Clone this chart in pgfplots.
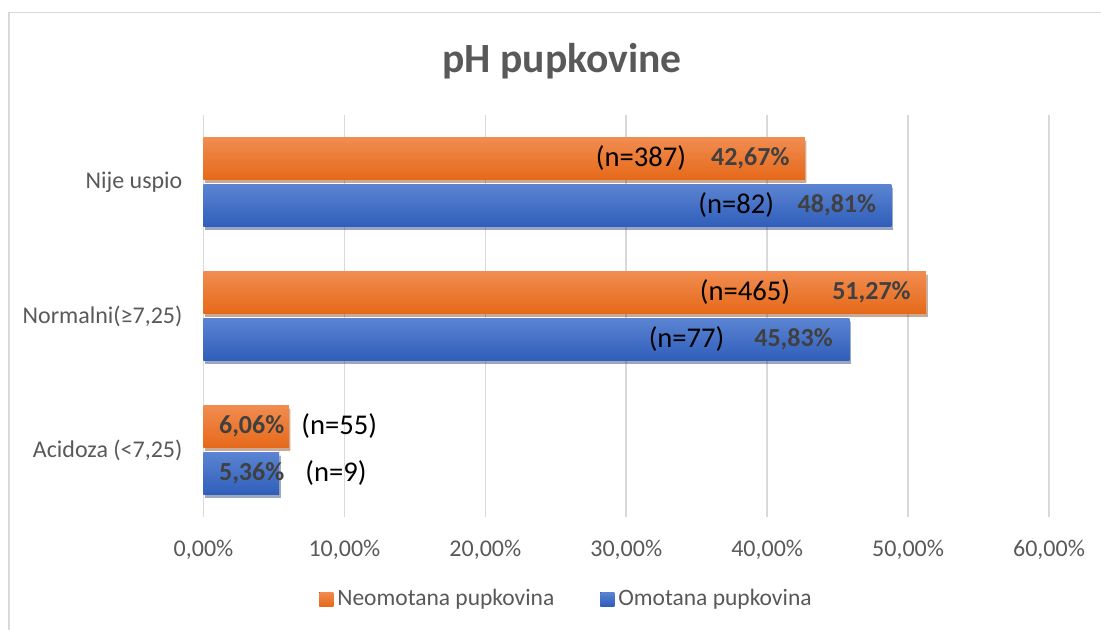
\documentclass[border=0pt]{standalone}
\usepackage{pgfplots}
\pgfplotsset{compat=1.18}
\usepackage{fontspec}
\setmainfont{Carlito}
\usetikzlibrary{shadows}
\definecolor{txt}{HTML}{595959}
\definecolor{lbl}{HTML}{404040}
\definecolor{gridc}{HTML}{D9D9D9}
\definecolor{orT}{RGB}{241,140,80}
\definecolor{orB}{RGB}{230,105,25}
\definecolor{blT}{RGB}{91,132,210}
\definecolor{blB}{RGB}{47,94,186}
\pgfplotsset{
  orbar/.style={xbar, bar width=21pt, bar shift=11.75pt, draw=none, forget plot,
    top color=orT, bottom color=orB,
    drop shadow={shadow xshift=0.8pt, shadow yshift=-1.6pt, opacity=0.25, fill=black}},
  blbar/.style={xbar, bar width=21pt, bar shift=-11.75pt, draw=none, forget plot,
    top color=blT, bottom color=blB,
    drop shadow={shadow xshift=0.8pt, shadow yshift=-1.6pt, opacity=0.25, fill=black}},
}
\begin{document}
\begin{tikzpicture}
\useasboundingbox (-101.75pt,-56.5pt) rectangle (448.75pt,258.5pt);
\draw[gridc, line width=0.8pt] (-97.25pt,-56.5pt) -- (-97.25pt,252.25pt) -- (448.75pt,252.25pt);
\begin{axis}[
  at={(0,0)}, anchor=south west,
  scale only axis, width=422.75pt, height=201pt,
  xmin=0, xmax=60, ymin=-0.5, ymax=2.5,
  xtick={0,10,...,60},
  xticklabels={0{,}00\%,10{,}00\%,20{,}00\%,30{,}00\%,40{,}00\%,50{,}00\%,60{,}00\%},
  ytick={0,1,2},
  yticklabels={Acidoza (<7{,}25),Normalni(≥7{,}25),Nije uspio},
  xmajorgrids, major grid style={gridc, line width=0.8pt},
  axis line style={draw=none}, tick style={draw=none},
  /pgf/number format/assume math mode=true,
  xticklabel style={font=\fontsize{12}{14}\selectfont, text=txt, yshift=-8pt},
  yticklabel style={font=\fontsize{12}{14}\selectfont, text=txt, xshift=-7pt},
  title={pH pupkovine},
  title style={font=\fontsize{20.8}{24}\selectfont\bfseries, text=txt, at={(0.424,1.075)}, anchor=base},
  legend columns=2,
  legend style={draw=none, at={(0.4305,-0.204)}, anchor=center,
    font=\fontsize{11.75}{14}\selectfont, text=txt,
    /tikz/every even column/.append style={column sep=21pt}},
  legend image code/.code={\fill[#1] (0pt,-3.5pt) rectangle (7pt,3.5pt);},
  clip=false,
]
\addplot[orbar] coordinates {(6.06,0)};
\addplot[orbar] coordinates {(51.27,1)};
\addplot[orbar] coordinates {(42.67,2)};
\addplot[blbar] coordinates {(5.36,0)};
\addplot[blbar] coordinates {(45.83,1)};
\addplot[blbar] coordinates {(48.81,2)};
\addlegendimage{top color=orT, bottom color=orB, draw=none}
\addlegendentry{Neomotana pupkovina}
\addlegendimage{top color=blT, bottom color=blB, draw=none}
\addlegendentry{Omotana pupkovina}
% percentage labels
\begin{scope}[every node/.style={font=\fontsize{13}{15}\selectfont\bfseries, text=lbl, inner sep=0pt}]
\node[yshift=11.75pt] at (axis cs:38.8,2) {42,67\%};
\node[yshift=-11.75pt] at (axis cs:44.95,2) {48,81\%};
\node[yshift=11.75pt] at (axis cs:47.4,1) {51,27\%};
\node[yshift=-11.75pt] at (axis cs:41.87,1) {45,83\%};
\node[yshift=11.75pt] at (axis cs:3.42,0) {6,06\%};
\node[yshift=-11.75pt] at (axis cs:3.42,0) {5,36\%};
\end{scope}
\begin{scope}[every node/.style={font=\fontsize{14.3}{16}\selectfont, text=black, inner sep=0pt}]
\node[yshift=11.75pt] at (axis cs:31.05,2) {(n=387)};
\node[yshift=-11.75pt] at (axis cs:37.8,2) {(n=82)};
\node[yshift=11.75pt] at (axis cs:38.43,1) {(n=465)};
\node[yshift=-11.75pt] at (axis cs:34.28,1) {(n=77)};
\node[yshift=11.75pt] at (axis cs:9.63,0) {(n=55)};
\node[yshift=-11.75pt] at (axis cs:9.40,0) {(n=9)};
\end{scope}
\end{axis}
\end{tikzpicture}
\end{document}
